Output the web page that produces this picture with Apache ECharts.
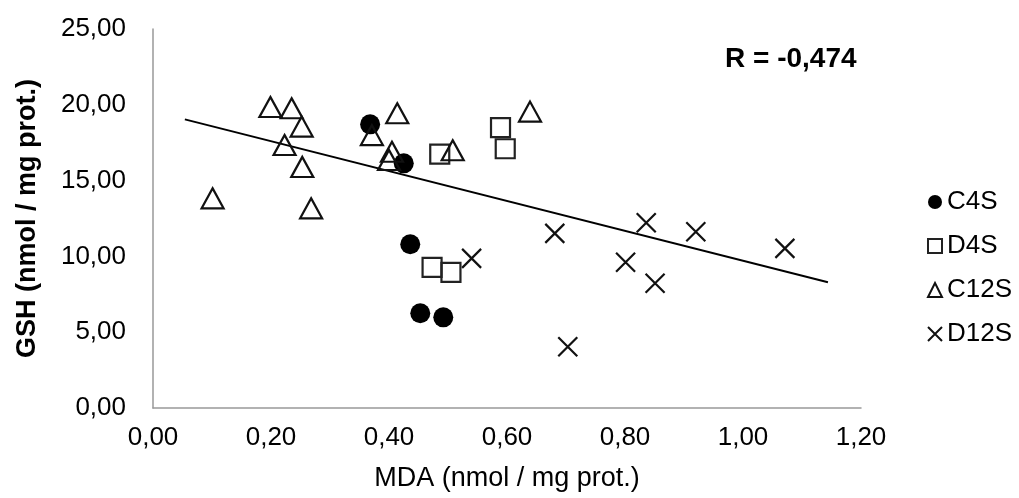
<!DOCTYPE html>
<html>
<head>
	<meta charset="utf-8">
	<title>GSH vs MDA</title>
	<script src="https://cdn.jsdelivr.net/npm/echarts@6/dist/echarts.min.js"></script>
	<style>html,body{margin:0;padding:0;background:#fff}</style>
</head>
<body>
	<div id="main" style="width:1019px;height:498px;"></div>
	<script>
		// points: [MDA, GSH]
		var c4s = [[0.368, 18.71], [0.425, 16.14], [0.436, 10.80], [0.453, 6.25], [0.492, 5.98]];
		var d4s = [[0.486, 16.75], [0.589, 18.50], [0.597, 17.10], [0.473, 9.28], [0.505, 8.95]];
		var c12s = [[0.199, 19.85], [0.235, 19.77], [0.252, 18.56], [0.223, 17.35], [0.253, 15.90],
			[0.101, 13.83], [0.268, 13.17], [0.414, 19.44], [0.371, 18.00], [0.405, 16.90],
			[0.400, 16.36], [0.508, 17.00], [0.639, 19.55]];
		var d12s = [[0.540, 9.87], [0.681, 11.52], [0.836, 12.22], [0.920, 11.63], [1.071, 10.53],
			[0.801, 9.61], [0.851, 8.23], [0.703, 4.04]];
		var trend = [[0.054, 19.04], [1.144, 8.29]];
		var xTicks = [0, 1.2, 0.2];
		var yTicks = [0, 25, 5];

		var crossPath = 'path://M0,0L10,10M10,0L0,10';
		var fmt = function (v) { return v.toFixed(2).replace('.', ','); };
		var font = 'Liberation Sans, Arial, sans-serif';

		var myChart = echarts.init(document.getElementById('main'));
		var option = {
			animation: false,
			textStyle: { fontFamily: font },
			grid: { left: 153, right: 158, top: 29, bottom: 90 },
			legend: {
				orient: 'vertical',
				left: 922,
				top: 184,
				itemWidth: 14,
				itemHeight: 14,
				itemGap: 18,
				data: ['C4S', 'D4S', 'C12S', 'D12S'],
				textStyle: { fontSize: 26, color: '#000', fontFamily: font }
			},
			xAxis: {
				type: 'value',
				min: xTicks[0], max: xTicks[1], interval: xTicks[2],
				name: 'MDA (nmol / mg prot.)',
				nameLocation: 'middle',
				nameGap: 57,
				nameTextStyle: { fontSize: 27, color: '#000', fontFamily: font },
				axisLine: { show: true, lineStyle: { color: '#999', width: 1.5 } },
				axisTick: { show: false },
				splitLine: { show: false },
				axisLabel: { formatter: fmt, fontSize: 26, color: '#000', margin: 17, fontFamily: font }
			},
			yAxis: {
				type: 'value',
				min: yTicks[0], max: yTicks[1], interval: yTicks[2],
				name: 'GSH (nmol / mg prot.)',
				nameLocation: 'middle',
				nameGap: 112,
				nameTextStyle: { fontSize: 27, fontWeight: 'bold', color: '#000', fontFamily: font },
				axisLine: { show: true, lineStyle: { color: '#999', width: 1.5 } },
				axisTick: { show: false },
				splitLine: { show: false },
				axisLabel: { formatter: fmt, fontSize: 26, color: '#000', margin: 27, fontFamily: font }
			},
			graphic: [{
				type: 'text',
				left: 725,
				top: 45,
				style: { text: 'R = -0,474', fontSize: 28, fontWeight: 'bold', fill: '#000', fontFamily: font }
			}],
			series: [
				{
					name: 'trend', type: 'line', data: trend, symbol: 'none',
					lineStyle: { color: '#000', width: 2 }, z: 1, silent: true
				},
				{
					name: 'C4S', type: 'scatter', data: c4s, symbol: 'circle', symbolSize: 20,
					itemStyle: { color: '#000', opacity: 1 }, z: 3
				},
				{
					name: 'D4S', type: 'scatter', data: d4s, symbol: 'rect', symbolSize: 19,
					itemStyle: { color: 'rgba(0,0,0,0)', borderColor: '#222', borderWidth: 2.2, opacity: 1 }, z: 3
				},
				{
					name: 'C12S', type: 'scatter', data: c12s, symbol: 'triangle', symbolSize: [22, 20],
					itemStyle: { color: 'rgba(0,0,0,0)', borderColor: '#111', borderWidth: 2.2, opacity: 1 }, z: 3
				},
				{
					name: 'D12S', type: 'scatter', data: d12s, symbol: crossPath, symbolSize: 19,
					itemStyle: { color: 'rgba(0,0,0,0)', borderColor: '#111', borderWidth: 2.2, opacity: 1 }, z: 3
				}
			]
		};
		myChart.setOption(option);
	</script>
</body>
</html>
